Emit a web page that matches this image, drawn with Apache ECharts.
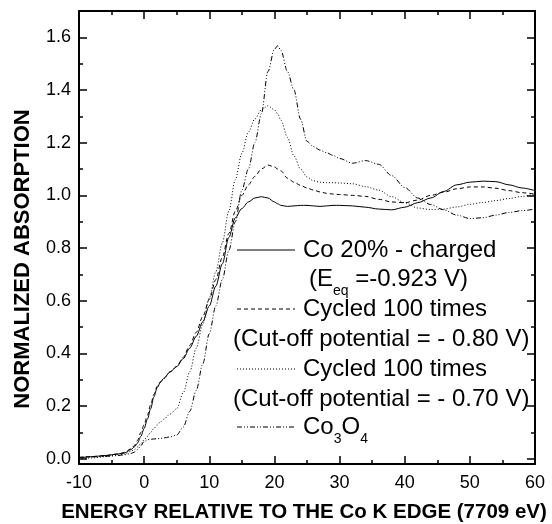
<!DOCTYPE html>
<html>
<head>
<meta charset="utf-8">
<script src="https://cdn.jsdelivr.net/npm/echarts@6/dist/echarts.min.js"></script>
<style>html,body{margin:0;padding:0;background:#fff}#c{width:552px;height:524px}</style>
</head>
<body>
<div id="c"></div>
<script>
var energy = [-10,-8,-6,-4,-3,-2,-1.5,-1,-0.5,0,0.5,1,1.5,2,2.5,3,4,5,6,7,8,9,10,11,12,13,14,15,16,17,18,19,20,20.5,21,22,23,24,25,26,27,28,29,30,32,34,36,38,40,42,44,46,48,50,52,54,56,58,60];
var charged = [0.003,0.008,0.012,0.018,0.022,0.035,0.045,0.06,0.085,0.115,0.15,0.19,0.235,0.27,0.29,0.305,0.33,0.35,0.38,0.42,0.465,0.52,0.58,0.655,0.74,0.84,0.915,0.95,0.975,0.99,0.995,0.99,0.975,0.968,0.962,0.958,0.96,0.962,0.962,0.96,0.958,0.96,0.962,0.962,0.96,0.955,0.948,0.945,0.955,0.972,0.99,1.015,1.04,1.05,1.054,1.052,1.04,1.028,1.018];
var cycled080 = [0.005,0.008,0.012,0.018,0.024,0.038,0.05,0.07,0.1,0.13,0.165,0.205,0.245,0.275,0.292,0.305,0.33,0.35,0.385,0.43,0.48,0.54,0.605,0.68,0.765,0.855,0.94,1.0,1.04,1.072,1.1,1.115,1.108,1.1,1.093,1.065,1.05,1.038,1.028,1.02,1.013,1.008,1.005,1.003,1.0,0.996,0.985,0.975,0.972,0.982,1.0,1.012,1.025,1.032,1.032,1.027,1.018,1.01,1.005];
var cycled070 = [0.0,0.003,0.008,0.014,0.018,0.028,0.035,0.045,0.058,0.072,0.085,0.1,0.115,0.128,0.14,0.15,0.17,0.19,0.25,0.33,0.42,0.51,0.61,0.71,0.82,0.94,1.06,1.16,1.24,1.29,1.325,1.34,1.325,1.31,1.285,1.22,1.15,1.1,1.07,1.055,1.05,1.048,1.048,1.047,1.044,1.033,1.02,0.995,0.972,0.952,0.946,0.948,0.956,0.966,0.973,0.98,0.988,0.996,1.005];
var co3o4 = [0.005,0.007,0.009,0.012,0.015,0.02,0.025,0.035,0.05,0.065,0.072,0.074,0.075,0.076,0.077,0.079,0.083,0.09,0.12,0.18,0.26,0.36,0.475,0.58,0.68,0.79,0.9,1.02,1.1,1.2,1.31,1.47,1.555,1.568,1.55,1.47,1.4,1.29,1.205,1.185,1.172,1.162,1.152,1.14,1.122,1.132,1.118,1.075,1.03,0.99,0.965,0.945,0.925,0.912,0.915,0.925,0.935,0.942,0.948];
var seriesNames = ['Co 20% - charged','Cycled 100 times (-0.80 V)','Cycled 100 times (-0.70 V)','Co3O4'];
var yTickValues = [0,0.2,0.4,0.6,0.8,1.0,1.2,1.4,1.6];
var yMinorValues = [0.1,0.3,0.5,0.7,0.9,1.1,1.3,1.5,1.7];
var xTitle = 'ENERGY RELATIVE TO THE Co K EDGE (7709 eV)';
var yTitle = 'NORMALIZED ABSORPTION';

var FONT = "'Liberation Sans', Arial, Helvetica, sans-serif";
var dashes = ['solid', [4,3], [1,2], [5,2,1,2,1,2]];
var seriesVals = [charged, cycled080, cycled070, co3o4];

function pairs(v){ return energy.map(function(x,i){ return [x, v[i]]; }); }

var axisLine = {show:true, onZero:false, lineStyle:{color:'#000', width:2}};
function yAx(pos, minor, labels){
  return {
    type:'value', min:-0.02, max:1.7, position:pos,
    axisLine: minor ? {show:false, onZero:false} : axisLine,
    axisTick:{show:true, inside:true, length: minor?4:8, customValues: minor?yMinorValues:yTickValues, lineStyle:{color:'#000', width:1.5}},
    axisLabel: labels ? {show:true, customValues:yTickValues, formatter:function(v){return v.toFixed(1);}, fontSize:18, fontFamily:FONT, color:'#000', margin:8} : {show:false},
    splitLine:{show:false}
  };
}
function xAx(pos, labels){
  return {
    type:'value', min:-10, max:60, interval:10, position:pos,
    axisLine: axisLine,
    axisTick:{show:true, inside:true, length:8, lineStyle:{color:'#000', width:1.5}},
    minorTick:{show:true, splitNumber:2, length:4, lineStyle:{color:'#000', width:1.5}},
    axisLabel: labels ? {show:true, fontSize:18, fontFamily:FONT, color:'#000', margin:10} : {show:false},
    splitLine:{show:false}, minorSplitLine:{show:false}
  };
}

var series = seriesVals.map(function(v,i){
  return {
    name: seriesNames[i], type:'line', data: pairs(v), xAxisIndex:0, yAxisIndex:0,
    showSymbol:false, smooth:0.3, smoothMonotone:'x',
    lineStyle:{color:'#000', width:1, type: dashes[i]}, z:3
  };
});

var LF = "24px " + FONT;
var legendRows = [250, 279, 309, 339, 369, 399, 427];
function sampleLine(y, dash){
  return {type:'line', shape:{x1:237, y1:y, x2:295, y2:y}, style:{stroke:'#000', lineWidth:1, lineDash: dash==='solid'?null:dash}};
}
function txt(x, y, t, rich){
  var s = {text:t, x:x, y:y, font:LF, fill:'#000', align:'left', verticalAlign:'middle', textAlign:'left', textVerticalAlign:'middle'};
  if (rich) s.rich = rich;
  return {type:'text', style:s};
}
var richSub = {
  a:{fontSize:24, fontFamily:FONT, color:'#000'},
  s:{fontSize:14, fontFamily:FONT, color:'#000', padding:[24,0,0,0]}
};

var graphic = [
  sampleLine(legendRows[0], dashes[0]),
  txt(303, legendRows[0], 'Co 20% - charged'),
  txt(309, legendRows[1], '{a|(E}{s|eq}{a| =-0.923 V)}', richSub),
  sampleLine(legendRows[2], dashes[1]),
  txt(303, legendRows[2], 'Cycled 100 times'),
  txt(233, legendRows[3], '(Cut-off potential = - 0.80 V)'),
  sampleLine(legendRows[4], dashes[2]),
  txt(303, legendRows[4], 'Cycled 100 times'),
  txt(233, legendRows[5], '(Cut-off potential = - 0.70 V)'),
  sampleLine(legendRows[6], dashes[3]),
  txt(303, legendRows[6], '{a|Co}{s|3}{a|O}{s|4}', richSub),
  {type:'text', x:304, y:512, style:{text:xTitle, font:"bold 20.5px "+FONT, fill:'#000', align:'center', verticalAlign:'middle', textAlign:'center', textVerticalAlign:'middle'}},
  {type:'text', x:23, y:259, rotation:Math.PI/2, style:{text:yTitle, font:"bold 22px "+FONT, fill:'#000', align:'center', verticalAlign:'middle', textAlign:'center', textVerticalAlign:'middle'}}
];

var chart = echarts.init(document.getElementById('c'), null, {renderer:'canvas'});
chart.setOption({
  animation:false,
  backgroundColor:'#fff',
  grid:{left:79, right:17, top:11, bottom:60, containLabel:false},
  xAxis:[xAx('bottom', true), xAx('top', false)],
  yAxis:[yAx('left', false, true), yAx('left', true, false), yAx('right', false, false), yAx('right', true, false)],
  series: series,
  graphic: graphic
});
</script>
</body>
</html>
